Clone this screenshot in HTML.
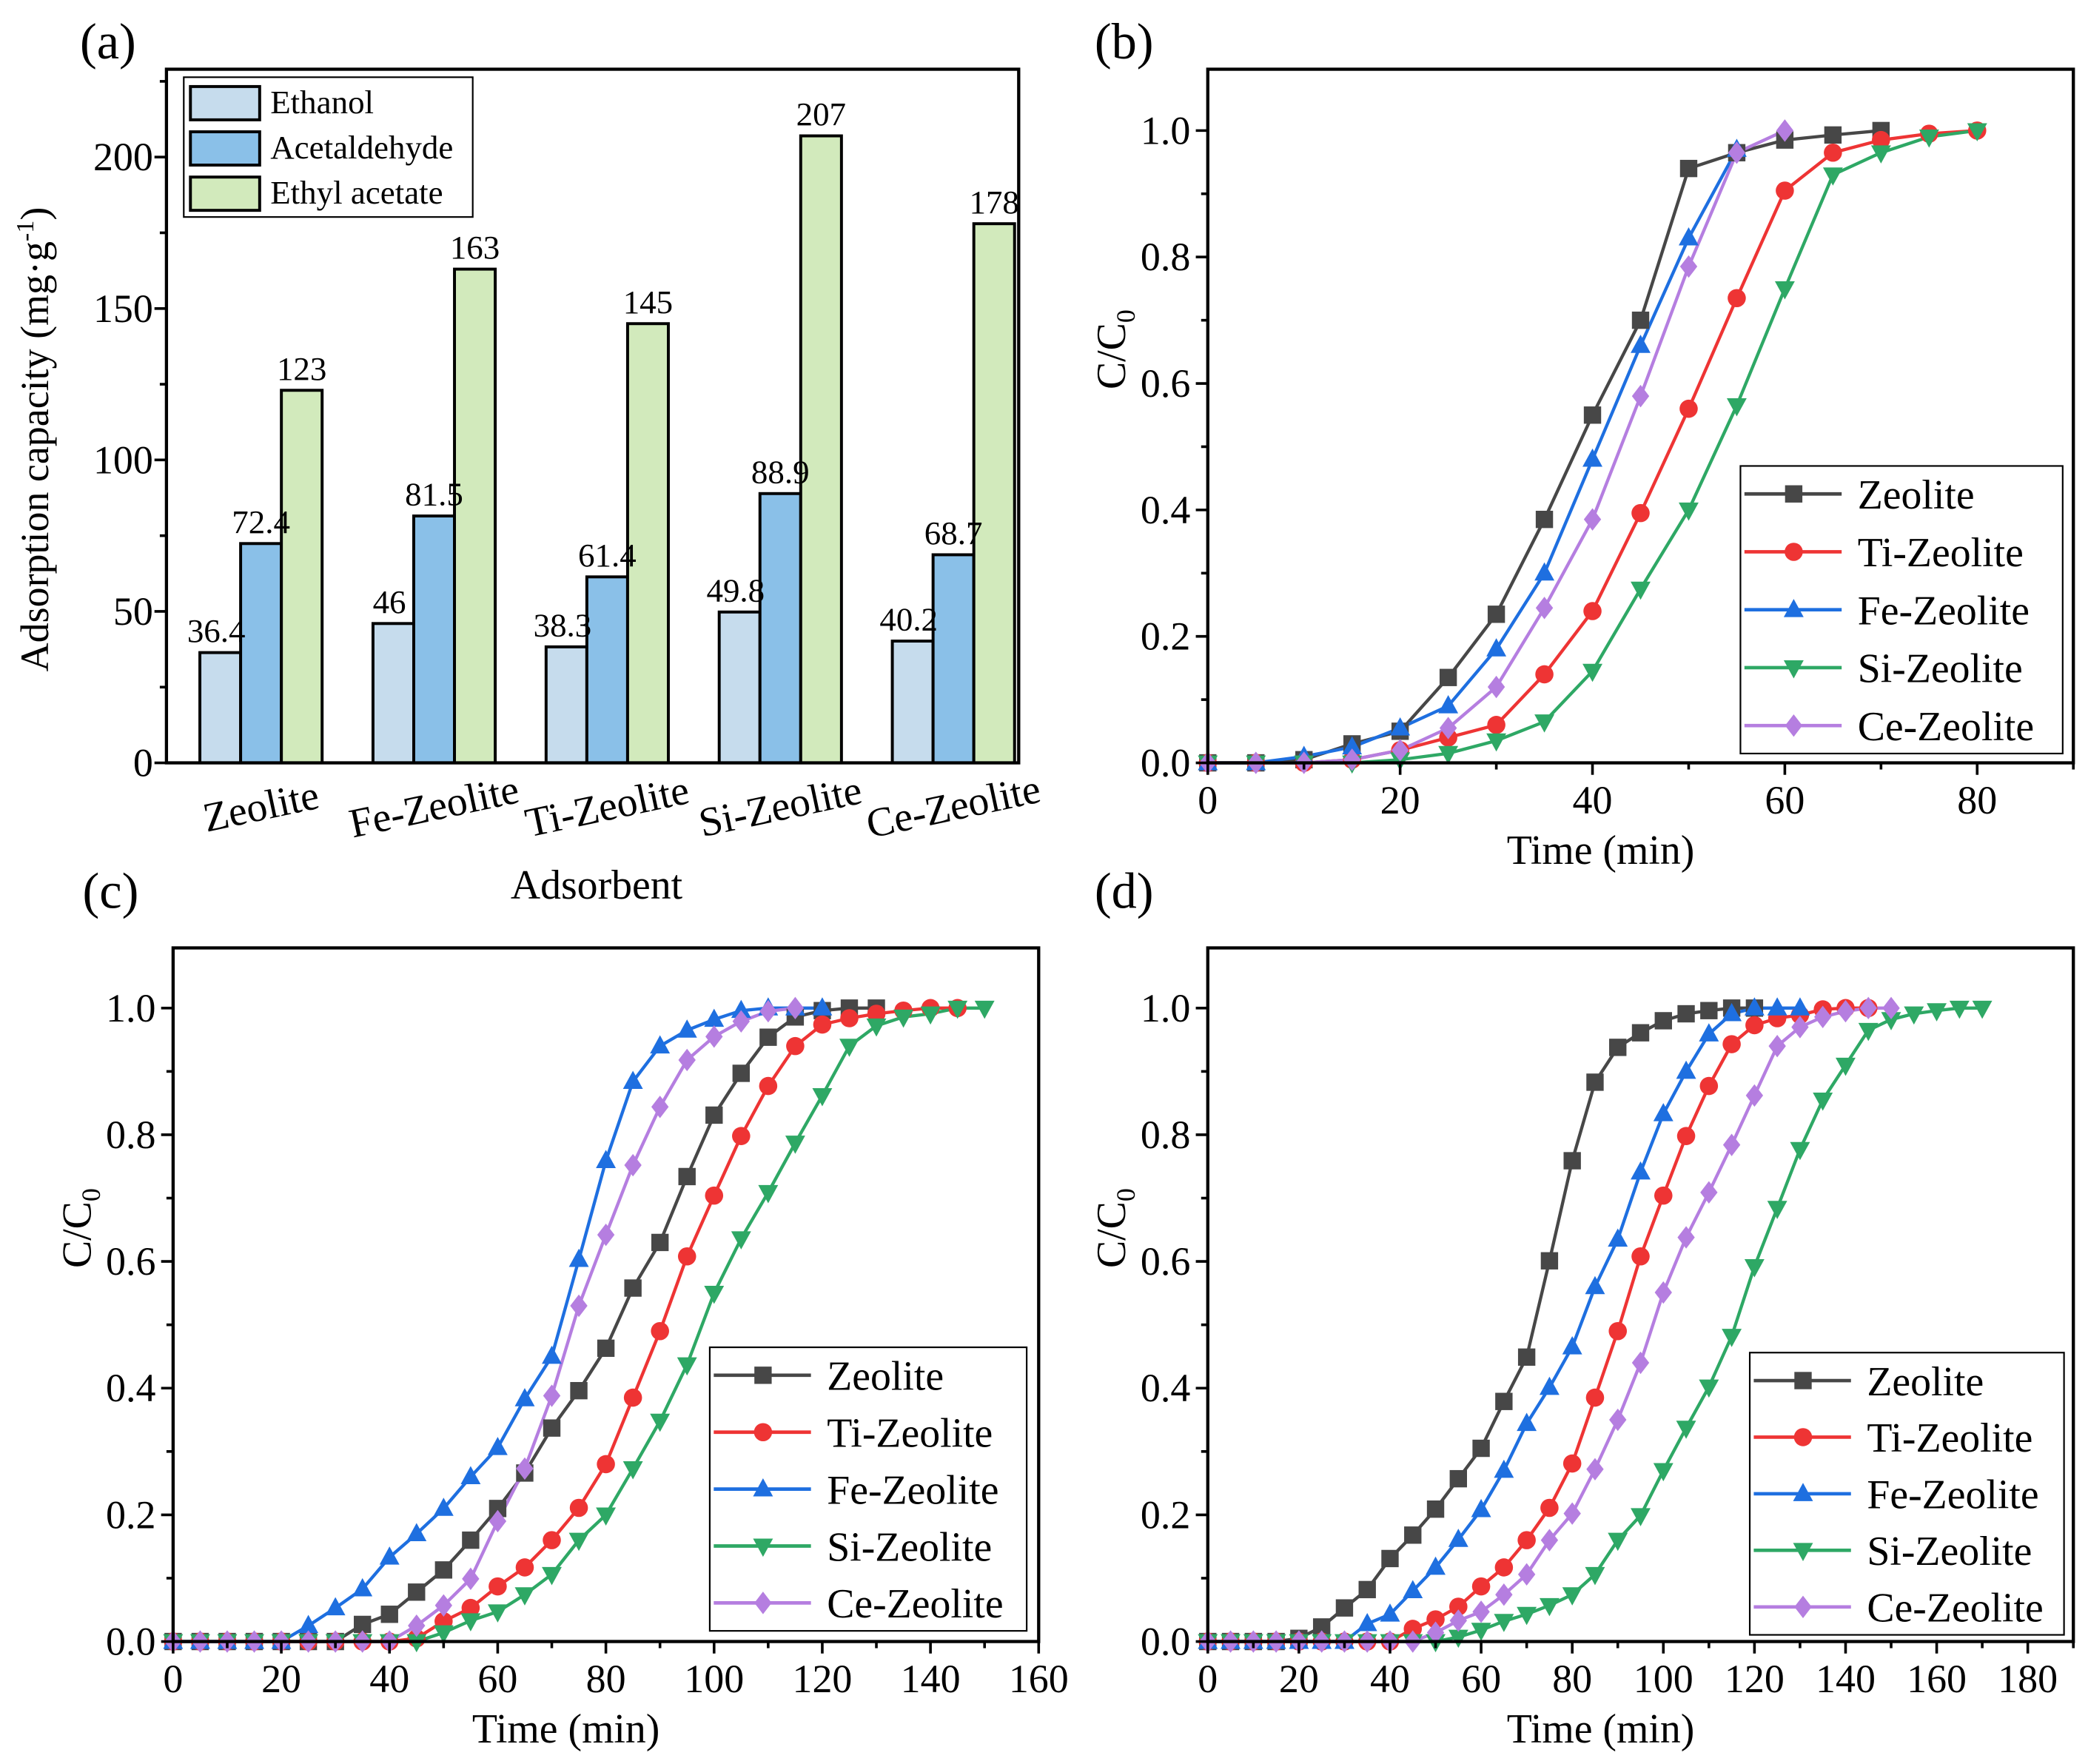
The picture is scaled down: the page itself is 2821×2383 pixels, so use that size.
<!DOCTYPE html>
<html><head><meta charset="utf-8">
<style>
html,body{margin:0;padding:0;background:#fff;}
svg{display:block;font-family:"Liberation Serif","DejaVu Serif",serif;}
</style></head>
<body>
<svg id="fig" width="2821" height="2383" viewBox="0 0 1568 1325" preserveAspectRatio="none" xmlns="http://www.w3.org/2000/svg"></svg>
<script>
// ---------- Panel (a) data ----------
const barCategories = ["Zeolite","Fe-Zeolite","Ti-Zeolite","Si-Zeolite","Ce-Zeolite"];
const ethanolValues = [36.4,46,38.3,49.8,40.2];
const acetaldehydeValues = [72.4,81.5,61.4,88.9,68.7];
const ethylAcetateValues = [123,163,145,207,178];
const ethanolLabels = ["36.4","46","38.3","49.8","40.2"];
const acetaldehydeLabels = ["72.4","81.5","61.4","88.9","68.7"];
const ethylAcetateLabels = ["123","163","145","207","178"];
const barYTicks = [0,50,100,150,200];

// ---------- Panel (b) data ----------
const bZeoliteX = [0,5,10,15,20,25,30,35,40,45,50,55,60,65,70];
const bZeoliteY = [0,0,0.005,0.03,0.05,0.135,0.235,0.385,0.55,0.70,0.94,0.965,0.985,0.993,1.0];
const bTiX = [0,5,10,15,20,25,30,35,40,45,50,55,60,65,70,75,80];
const bTiY = [0,0,0,0.005,0.02,0.04,0.06,0.14,0.24,0.395,0.56,0.735,0.905,0.965,0.985,0.995,1.0];
const bFeX = [0,5,10,15,20,25,30,35,40,45,50,55];
const bFeY = [0,0,0.01,0.025,0.055,0.09,0.18,0.30,0.48,0.66,0.83,0.97];
const bSiX = [0,5,10,15,20,25,30,35,40,45,50,55,60,65,70,75,80];
const bSiY = [0,0,0,0,0.005,0.015,0.035,0.065,0.145,0.275,0.40,0.565,0.75,0.93,0.965,0.99,1.0];
const bCeX = [0,5,10,15,20,25,30,35,40,45,50,55,60];
const bCeY = [0,0,0,0.005,0.02,0.055,0.12,0.245,0.385,0.58,0.785,0.965,1.0];

// ---------- Panel (c) data ----------
const cZeoliteX = [0,5,10,15,20,25,30,35,40,45,50,55,60,65,70,75,80,85,90,95,100,105,110,115,120,125,130];
const cZeoliteY = [0,0,0,0,0,0,0,0.027,0.043,0.078,0.113,0.16,0.21,0.266,0.337,0.396,0.463,0.558,0.63,0.734,0.831,0.897,0.954,0.986,0.996,1,1];
const cTiX = [0,5,10,15,20,25,30,35,40,45,50,55,60,65,70,75,80,85,90,95,100,105,110,115,120,125,130,135,140,145];
const cTiY = [0,0,0,0,0,0,0,0,0,0.005,0.032,0.053,0.087,0.117,0.16,0.211,0.28,0.385,0.49,0.608,0.704,0.798,0.877,0.94,0.974,0.984,0.991,0.996,1,1];
const cFeX = [0,5,10,15,20,25,30,35,40,45,50,55,60,65,70,75,80,85,90,95,100,105,110,115,120];
const cFeY = [0,0,0,0,0,0.025,0.053,0.083,0.133,0.17,0.21,0.26,0.306,0.383,0.45,0.603,0.759,0.884,0.94,0.965,0.982,0.996,1,1,1];
const cSiX = [0,5,10,15,20,25,30,35,40,45,50,55,60,65,70,75,80,85,90,95,100,105,110,115,120,125,130,135,140,145,150];
const cSiY = [0,0,0,0,0,0,0,0,0,0,0.014,0.033,0.047,0.074,0.106,0.16,0.2,0.273,0.348,0.437,0.55,0.636,0.709,0.787,0.862,0.94,0.972,0.986,0.991,1,1];
const cCeX = [0,5,10,15,20,25,30,35,40,45,50,55,60,65,70,75,80,85,90,95,100,105,110,115];
const cCeY = [0,0,0,0,0,0,0,0,0,0.025,0.057,0.099,0.19,0.273,0.388,0.53,0.642,0.752,0.844,0.918,0.955,0.979,0.995,1];

// ---------- Panel (d) data ----------
const dZeoliteX = [0,5,10,15,20,25,30,35,40,45,50,55,60,65,70,75,80,85,90,95,100,105,110,115,120];
const dZeoliteY = [0,0,0,0,0.005,0.023,0.053,0.082,0.131,0.168,0.209,0.257,0.305,0.379,0.449,0.601,0.759,0.883,0.938,0.961,0.98,0.991,0.996,1,1];
const dTiX = [0,5,10,15,20,25,30,35,40,45,50,55,60,65,70,75,80,85,90,95,100,105,110,115,120,125,130,135,140,145];
const dTiY = [0,0,0,0,0,0,0,0,0,0.02,0.035,0.055,0.087,0.117,0.16,0.211,0.281,0.385,0.49,0.608,0.704,0.798,0.877,0.943,0.973,0.984,0.989,0.998,1,1];
const dFeX = [0,5,10,15,20,25,30,35,40,45,50,55,60,65,70,75,80,85,90,95,100,105,110,115,120,125,130];
const dFeY = [0,0,0,0,0,0,0,0.028,0.043,0.08,0.117,0.161,0.208,0.27,0.344,0.401,0.465,0.56,0.635,0.741,0.833,0.9,0.959,0.991,1,1,1];
const dSiX = [0,5,10,15,20,25,30,35,40,45,50,55,60,65,70,75,80,85,90,95,100,105,110,115,120,125,130,135,140,145,150,155,160,165,170];
const dSiY = [0,0,0,0,0,0,0,0,0,0,0,0.007,0.018,0.032,0.043,0.057,0.074,0.106,0.16,0.199,0.27,0.337,0.402,0.482,0.592,0.684,0.777,0.855,0.91,0.965,0.982,0.991,0.996,1,1];
const dCeX = [0,5,10,15,20,25,30,35,40,45,50,55,60,65,70,75,80,85,90,95,100,105,110,115,120,125,130,135,140,145,150];
const dCeY = [0,0,0,0,0,0,0,0,0,0,0.014,0.033,0.047,0.074,0.106,0.16,0.202,0.272,0.35,0.44,0.551,0.638,0.709,0.784,0.862,0.94,0.97,0.986,0.995,1,1];

const seriesNames = ["Zeolite","Ti-Zeolite","Fe-Zeolite","Si-Zeolite","Ce-Zeolite"];
const lineYTicks = ["0.0","0.2","0.4","0.6","0.8","1.0"];
const bXTicks = [0,20,40,60,80];
const cXTicks = [0,20,40,60,80,100,120,140,160];
const dXTicks = [0,20,40,60,80,100,120,140,160,180];

const NS = "http://www.w3.org/2000/svg";
const svg = document.getElementById("fig");
function mk(tag, attrs, parent, text){
  const e = document.createElementNS(NS, tag);
  for (const k in attrs) e.setAttribute(k, attrs[k]);
  if (text !== undefined) e.textContent = text;
  (parent || svg).appendChild(e);
  return e;
}
const COLORS = ["#474747","#ee3434","#1e6fe0","#2ea865","#b57ee0"];
const MARKERS = ["square","circle","up","down","diamond"];

function marker(g, type, x, y, color, s){
  let e;
  if (type==="square") e = mk("rect",{x:x-s,y:y-s,width:2*s,height:2*s,fill:color},g);
  else if (type==="circle") e = mk("circle",{cx:x,cy:y,r:s*1.05,fill:color},g);
  else if (type==="up") e = mk("polygon",{points:`${x},${y-s*1.25} ${x-s*1.15},${y+s*0.85} ${x+s*1.15},${y+s*0.85}`,fill:color},g);
  else if (type==="down") e = mk("polygon",{points:`${x},${y+s*1.25} ${x-s*1.15},${y-s*0.85} ${x+s*1.15},${y-s*0.85}`,fill:color},g);
  else e = mk("polygon",{points:`${x},${y-s*1.3} ${x+s*1.0},${y} ${x},${y+s*1.3} ${x-s*1.0},${y}`,fill:color},g);
  
  
  return e;
}

// ================= Panel (a) =================
(function(){
  const g = mk("g",{});
  
  
  const L=125,T=52,R=765,B=573, ymax=229;
  const ys = v => B - v/ymax*(B-T);
  const groupCenter = i => 196 + 130*i;
  const bw = 30.6;
  const lab = mk("text",{x:60,y:44,"font-size":38},g,"(a)");
   
  const series = [
    {vals:ethanolValues, labels:ethanolLabels, color:"#c6dced", name:"Ethanol"},
    {vals:acetaldehydeValues, labels:acetaldehydeLabels, color:"#8ac0e8", name:"Acetaldehyde"},
    {vals:ethylAcetateValues, labels:ethylAcetateLabels, color:"#d2eabc", name:"Ethyl acetate"}
  ];
  series.forEach((s,si)=>{
    s.vals.forEach((v,i)=>{
      const x = groupCenter(i) + (si-1.5)*bw;
      const r = mk("rect",{x:x,y:ys(v),width:bw,height:B-ys(v),fill:s.color,stroke:"#000","stroke-width":2.2},g);
      
      
    });
  });
  series.forEach((s,si)=>{
    s.vals.forEach((v,i)=>{
      const x = groupCenter(i) + (si-1.5)*bw;
      const t = mk("text",{x:x+bw/2 - (si===0?3:0),y:ys(v)-8,"font-size":25,"text-anchor":"middle"},g,s.labels[i]);
      
      
    });
  });
  const fr = mk("rect",{x:L,y:T,width:R-L,height:B-T,fill:"none",stroke:"#000","stroke-width":2.4},g);
   
  for (let v=0; v<=225; v+=25){
    const major = v%50===0;
    mk("line",{x1:L,x2:L-(major?9:5),y1:ys(v),y2:ys(v),stroke:"#000","stroke-width":2},g);
  }
  barYTicks.forEach(v=>{
    const t = mk("text",{x:L-10,y:ys(v)+10,"font-size":30,"text-anchor":"end"},g,String(v));
     
  });
  barCategories.forEach((c,i)=>{
    const t = mk("text",{x:groupCenter(i),y:616,"font-size":31,"text-anchor":"middle",transform:`rotate(-12 ${groupCenter(i)} 606)`},g,c);
     
  });
  const xt = mk("text",{x:448,y:675,"font-size":31,"text-anchor":"middle"},g,"Adsorbent");
   
  const yt = mk("text",{x:0,y:0,"font-size":30,"text-anchor":"middle",transform:"translate(36 330) rotate(-90)"},g);
   
  yt.appendChild(document.createTextNode("Adsorption capacity (mg·g"));
  mk("tspan",{dy:-11,"font-size":19},yt,"-1");
  mk("tspan",{dy:11},yt,")");
  const lg = mk("g",{},g);
   
  mk("rect",{x:138,y:58,width:217,height:105,fill:"#fff",stroke:"#000","stroke-width":1.2},lg);
  series.forEach((s,si)=>{
    const cy = 77 + si*34;
    const sw = mk("rect",{x:143,y:cy-12,width:52,height:25,fill:s.color,stroke:"#000","stroke-width":2.2},lg);
     
    const t = mk("text",{x:203,y:cy+8,"font-size":25},lg,s.name);
     
  });
})();

// ================= Line panels =================
function linePanel(opt){
  const g = mk("g",{});
  
  
  const {L,T,R,B,xmax,ymax} = opt;
  const xs = v => L + v/xmax*(R-L);
  const ys = v => B - v/ymax*(B-T);
  const lab = mk("text",{x:opt.labX,y:opt.labY,"font-size":38},g,opt.label);
   
  opt.data.forEach((d,si)=>{
    const pts = d[0].map((x,i)=>xs(x)+","+ys(d[1][i])).join(" ");
    const pl = mk("polyline",{points:pts,fill:"none",stroke:COLORS[si],"stroke-width":2.4,"stroke-linejoin":"round"},g);
    
    
  });
  opt.data.forEach((d,si)=>{
    d[0].forEach((x,i)=>marker(g,MARKERS[si],xs(x),ys(d[1][i]),COLORS[si],6.5));
  });
  const fr = mk("rect",{x:L,y:T,width:R-L,height:B-T,fill:"none",stroke:"#000","stroke-width":2.4},g);
   
  for (let k=0;k<=10;k++){
    const v=k/10, major=k%2===0;
    mk("line",{x1:L,x2:L-(major?9:5),y1:ys(v),y2:ys(v),stroke:"#000","stroke-width":2},g);
  }
  lineYTicks.forEach(s=>{
    const t = mk("text",{x:L-13,y:ys(parseFloat(s))+10,"font-size":30,"text-anchor":"end"},g,s);
     
  });
  for (let v=0; v<=xmax+0.01; v+=10){
    const major = v%20===0;
    mk("line",{x1:xs(v),x2:xs(v),y1:B,y2:B+(major?9:5),stroke:"#000","stroke-width":2},g);
  }
  opt.xTicks.forEach(v=>{
    const t = mk("text",{x:xs(v),y:B+38,"font-size":30,"text-anchor":"middle"},g,String(v));
     
  });
  const xt = mk("text",{x:(L+R)/2-(opt.xtShift||0),y:B+76,"font-size":31,"text-anchor":"middle"},g,"Time (min)");
   
  const ycx = L-62, ycy = (T+B)/2 - 50;
  const yt = mk("text",{x:0,y:0,"font-size":31,"text-anchor":"middle",transform:`translate(${ycx} ${ycy}) rotate(-90)`},g);
   
  yt.appendChild(document.createTextNode("C/C"));
  mk("tspan",{dy:7,"font-size":20},yt,"0");
  const lg = mk("g",{},g);
   
  const lx=opt.legX, ly=opt.legY, lw=opt.legW, lh=opt.legH;
  mk("rect",{x:lx,y:ly,width:lw,height:lh,fill:"#fff",stroke:"#000","stroke-width":1.2},lg);
  const rowH = (lh-42)/4;
  seriesNames.forEach((n,si)=>{
    const cy = ly + 21 + rowH*si;
    mk("line",{x1:lx+3,x2:lx+76,y1:cy,y2:cy,stroke:COLORS[si],"stroke-width":2.6},lg);
    marker(lg,MARKERS[si],lx+40,cy,COLORS[si],6.5);
    const t = mk("text",{x:lx+88,y:cy+11,"font-size":31},lg,n);
     
  });
}

linePanel({name:"panel-b-breakthrough-ethanol",label:"(b)",labX:822,labY:44,L:907,T:52,R:1557,B:573,xmax:90,ymax:1.097,xTicks:bXTicks,
  data:[[bZeoliteX,bZeoliteY],[bTiX,bTiY],[bFeX,bFeY],[bSiX,bSiY],[bCeX,bCeY]],
  legX:1307,legY:350,legW:242,legH:216,xtShift:30});
linePanel({name:"panel-c-breakthrough-acetaldehyde",label:"(c)",labX:62,labY:682,L:130,T:712,R:780,B:1233,xmax:160,ymax:1.095,xTicks:cXTicks,
  data:[[cZeoliteX,cZeoliteY],[cTiX,cTiY],[cFeX,cFeY],[cSiX,cSiY],[cCeX,cCeY]],
  legX:533,legY:1012,legW:238,legH:213,xtShift:30});
linePanel({name:"panel-d-breakthrough-ethyl-acetate",label:"(d)",labX:822,labY:682,L:907,T:712,R:1557,B:1233,xmax:190,ymax:1.095,xTicks:dXTicks,
  data:[[dZeoliteX,dZeoliteY],[dTiX,dTiY],[dFeX,dFeY],[dSiX,dSiY],[dCeX,dCeY]],
  legX:1314,legY:1016,legW:236,legH:212,xtShift:30});
</script>
</body></html>
